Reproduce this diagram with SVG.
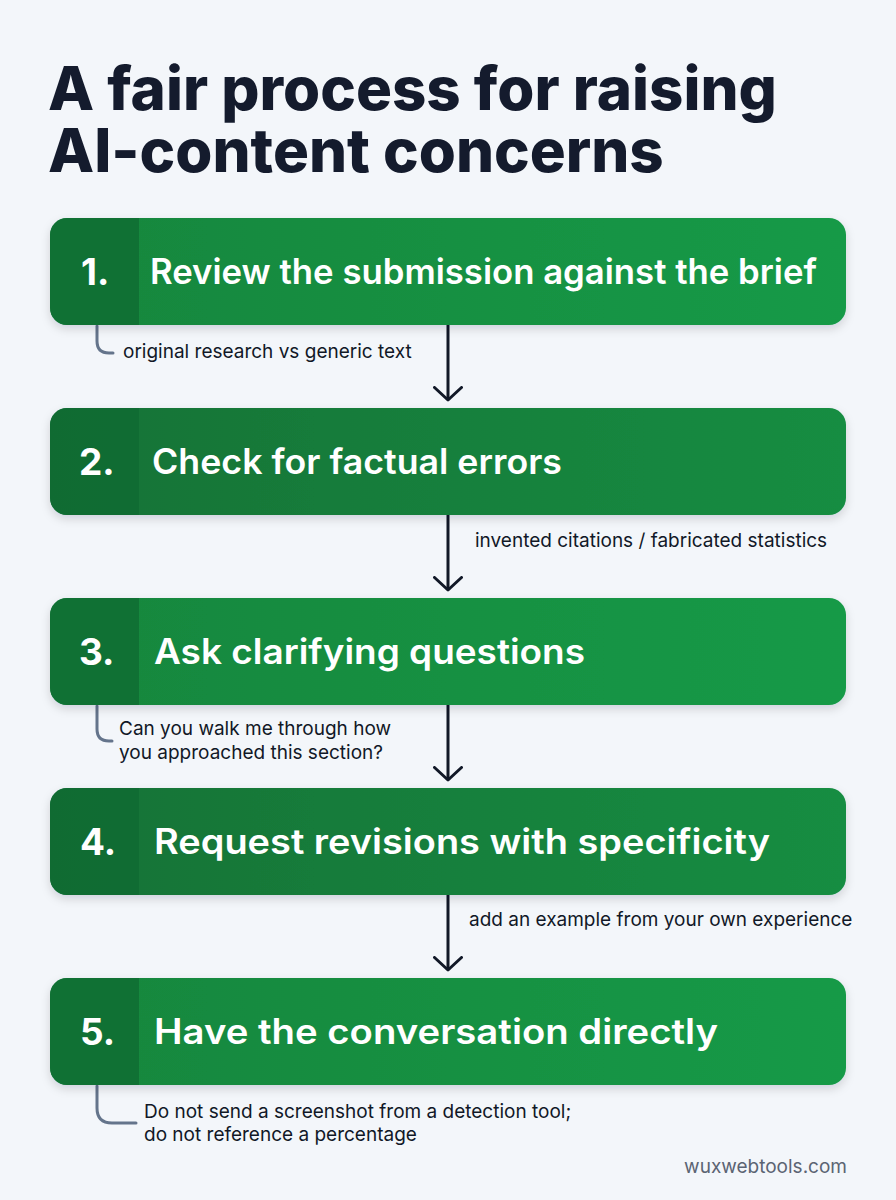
<svg xmlns="http://www.w3.org/2000/svg" width="896" height="1200" viewBox="0 0 896 1200">
<defs>
<linearGradient id="g" x1="0" y1="0" x2="1" y2="0">
<stop offset="0" stop-color="#15863d"/>
<stop offset="1" stop-color="#169a47"/>
</linearGradient>
<linearGradient id="gd" x1="0" y1="0" x2="1" y2="0">
<stop offset="0" stop-color="#127236"/>
<stop offset="1" stop-color="#158d42"/>
</linearGradient>
<filter id="sh" x="-5%" y="-20%" width="110%" height="150%">
<feDropShadow dx="0" dy="4" stdDeviation="5" flood-color="#0f172a" flood-opacity="0.15"/>
</filter>
<marker id="ah" viewBox="0 0 16 30" refX="14" refY="15" markerWidth="16" markerHeight="30" markerUnits="userSpaceOnUse" orient="auto">
<path d="M1.5 1.5 L14 15 L1.5 28.5" fill="none" stroke="#111827" stroke-width="3" stroke-linecap="round" stroke-linejoin="round"/>
</marker>
</defs>
<style>
.title{font-family:Inter,"Liberation Sans",sans-serif;font-weight:800;font-size:60px;fill:#141b2d}
.box{filter:url(#sh)}
.tile{fill:#0f6a31;opacity:0.75}
.num{font-family:Inter,"Liberation Sans",sans-serif;font-weight:700;font-size:37px;fill:#ffffff}
.lbl{font-family:Inter,"Liberation Sans",sans-serif;font-weight:600;font-size:35px;fill:#ffffff}
.note{font-family:Inter,"Liberation Sans",sans-serif;font-size:19px;fill:#111827}
.hook{fill:none;stroke:#64748b;stroke-width:3;stroke-linecap:round}
.conn{stroke:#111827;stroke-width:3;fill:none}
.wm{font-family:Inter,"Liberation Sans",sans-serif;font-size:19px;fill:#5b6473}
</style>
<rect width="896" height="1200" fill="#f3f6fa"/>
<g id="title">
<text class="title" x="48" y="110">A fair process for raising</text>
<text class="title" x="48" y="172">AI-content concerns</text>
</g>
<g id="connectors">
<line class="conn" x1="448" y1="325" x2="448" y2="400" marker-end="url(#ah)"/>
<line class="conn" x1="448" y1="515" x2="448" y2="590" marker-end="url(#ah)"/>
<line class="conn" x1="448" y1="705" x2="448" y2="780" marker-end="url(#ah)"/>
<line class="conn" x1="448" y1="895" x2="448" y2="970" marker-end="url(#ah)"/>
<path class="hook" d="M97 326 V341 Q97 353 109 353 H113"/>
<path class="hook" d="M97 706 V729 Q97 741 109 741 H112"/>
<path class="hook" d="M97 1086 V1108 Q97 1123 112 1123 H136"/>
</g>
<g id="step1">
<rect class="box" x="50" y="218" width="796" height="107" rx="17" fill="url(#g)"/>
<path class="tile" d="M67 218 H139 V325 H67 A17 17 0 0 1 50 308 V235 A17 17 0 0 1 67 218 Z"/>
<text class="num" x="81" y="285">1.</text>
<text class="lbl" x="150" y="284" textLength="667" lengthAdjust="spacingAndGlyphs">Review the submission against the brief</text>
</g>
<g id="note1"><text class="note" x="123" y="358">original research vs generic text</text></g>
<g id="step2">
<rect class="box" x="50" y="408" width="796" height="107" rx="17" fill="url(#gd)"/>
<path class="tile" d="M67 408 H139 V515 H67 A17 17 0 0 1 50 498 V425 A17 17 0 0 1 67 408 Z"/>
<text class="num" x="79" y="475">2.</text>
<text class="lbl" x="152" y="474" textLength="410" lengthAdjust="spacingAndGlyphs">Check for factual errors</text>
</g>
<g id="note2"><text class="note" x="475" y="547">invented citations / fabricated statistics</text></g>
<g id="step3">
<rect class="box" x="50" y="598" width="796" height="107" rx="17" fill="url(#g)"/>
<path class="tile" d="M67 598 H139 V705 H67 A17 17 0 0 1 50 688 V615 A17 17 0 0 1 67 598 Z"/>
<text class="num" x="79" y="665">3.</text>
<text class="lbl" x="154" y="664" textLength="431" lengthAdjust="spacingAndGlyphs">Ask clarifying questions</text>
</g>
<g id="note3">
<text class="note" x="119" y="735">Can you walk me through how</text>
<text class="note" x="119" y="759">you approached this section?</text>
</g>
<g id="step4">
<rect class="box" x="50" y="788" width="796" height="107" rx="17" fill="url(#gd)"/>
<path class="tile" d="M67 788 H139 V895 H67 A17 17 0 0 1 50 878 V805 A17 17 0 0 1 67 788 Z"/>
<text class="num" x="80" y="855">4.</text>
<text class="lbl" x="154" y="854" textLength="616" lengthAdjust="spacingAndGlyphs">Request revisions with specificity</text>
</g>
<g id="note4"><text class="note" x="469" y="926">add an example from your own experience</text></g>
<g id="step5">
<rect class="box" x="50" y="978" width="796" height="107" rx="17" fill="url(#g)"/>
<path class="tile" d="M67 978 H139 V1085 H67 A17 17 0 0 1 50 1068 V995 A17 17 0 0 1 67 978 Z"/>
<text class="num" x="80" y="1045">5.</text>
<text class="lbl" x="154" y="1044" textLength="564" lengthAdjust="spacingAndGlyphs">Have the conversation directly</text>
</g>
<g id="note5">
<text class="note" x="144" y="1118">Do not send a screenshot from a detection tool;</text>
<text class="note" x="144" y="1141">do not reference a percentage</text>
</g>
<text class="wm" x="847" y="1173" text-anchor="end">wuxwebtools.com</text>
</svg>
